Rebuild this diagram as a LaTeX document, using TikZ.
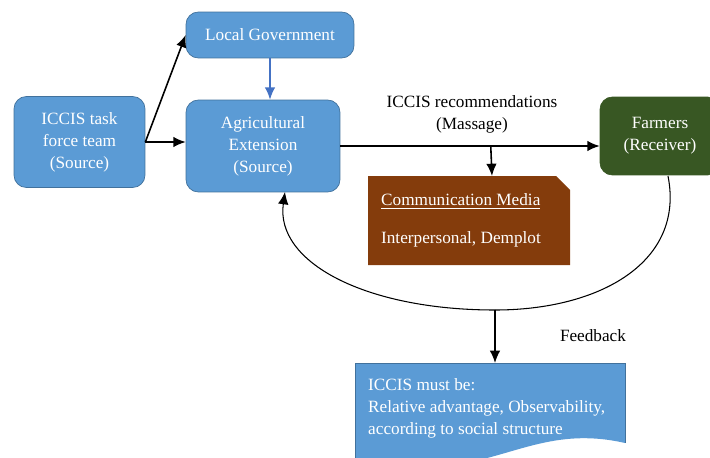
\documentclass[tikz,border=0pt]{standalone}
\usepackage{fontspec}
\setmainfont{Liberation Serif}
\usepackage{tikz}
\usetikzlibrary{arrows.meta}

\definecolor{boxblue}{HTML}{5B9BD5}
\definecolor{edgeblue}{HTML}{41719C}
\definecolor{arrowblue}{HTML}{4472C4}
\definecolor{farmgreen}{HTML}{385723}
\definecolor{mediabrown}{HTML}{843C0C}

\tikzset{
  bluebox/.style={draw=edgeblue, fill=boxblue, rounded corners=7pt, text=white, align=center,
    font=\fontsize{9.8}{12.5}\selectfont, inner sep=2pt},
  flow/.style={line width=0.9pt, -{Latex[length=7pt,width=6pt]}},
}

\begin{document}
\begin{tikzpicture}[x=0.02cm, y=-0.02cm]
			\useasboundingbox (0,0) rectangle (710,457);

			% Cajas de la izquierda
			\node[bluebox, minimum width=2.62cm, minimum height=1.82cm] (task) at (79.5,142) {ICCIS task\\force team\\(Source)};
			\node[bluebox, minimum width=3.36cm, minimum height=0.92cm] (gov) at (270,35) {Local Government};
			\node[bluebox, minimum width=3.08cm, minimum height=1.84cm] (ext) at (263,146) {Agricultural\\Extension\\(Source)};

			% Receptor
			\node[draw=farmgreen, fill=farmgreen, rounded corners=7pt, text=white, align=center,
			  font=\fontsize{9.8}{12.5}\selectfont, minimum width=2.4cm, minimum height=1.56cm] (farm) at (660,136) {Farmers\\(Receiver)};

			% Medio de comunicacion
			\fill[mediabrown] (368,176) -- (556,176) -- (570,190) -- (570,265) -- (368,265) -- cycle;
			\node[text=white, align=left, font=\fontsize{9.8}{12.5}\selectfont] (media) at (461,220.5)
			  {\underline{Communication Media}\\[9pt]Interpersonal, Demplot};
			\coordinate (mediatop) at (492,176);

			% Documento final
			\fill[boxblue] (355,363) -- (625,363) -- (625,443) .. controls (560,428) and (520,452) .. (470,462) -- (355,470) -- cycle;
			\draw[edgeblue, line width=0.3pt] (355,470) -- (355,363) -- (625,363) -- (625,443);
			\node[text=white, align=left, anchor=north west, font=\fontsize{9.8}{12.5}\selectfont] (must) at (362,372)
			  {ICCIS must be:\\Relative advantage, Observability,\\according to social structure};
			\coordinate (musttop) at (495,363);

			% Flechas
			\draw[flow] (task.east) -- (gov.west);
			\draw[flow] (task.east) -- (task.east -| ext.west);
			\draw[line width=0.9pt, arrowblue, -{Latex[length=7pt,width=6pt]}] (gov.south) -- (gov.south |- ext.north);
			\draw[flow] (ext.east) -- (ext.east -| farm.west) coordinate[pos=0.58] (split);
			\node[fill=white, align=center, font=\fontsize{9.8}{12.5}\selectfont, inner sep=3pt] (msg) at (472,114)
			  {ICCIS recommendations\\(Massage)};
			\draw[flow] (split) -- (mediatop);

			% Retroalimentacion
			\coordinate (fb) at (495,310);
			\draw[line width=0.6pt] (668,176) .. controls (685,262) and (600,310) .. (fb);
			\draw[line width=0.6pt, -{Latex[length=7pt,width=6pt]}] (fb) .. controls (365,310) and (275,262) .. (285,192);
			\draw[flow] (fb) -- (musttop);
			\node[font=\fontsize{9.8}{12.5}\selectfont] (feed) at (593,336) {Feedback};
		\end{tikzpicture}
\end{document}
